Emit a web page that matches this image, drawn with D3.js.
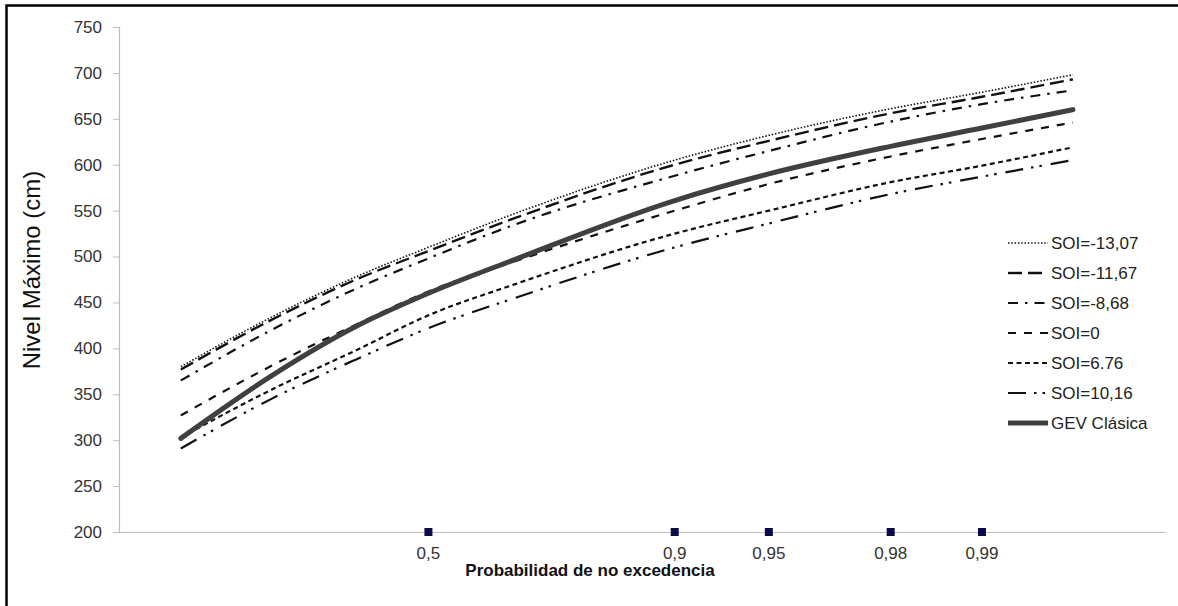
<!DOCTYPE html>
<html>
<head>
<meta charset="utf-8">
<script src="https://cdn.jsdelivr.net/npm/d3@7"></script>
<style>
  html, body { margin: 0; padding: 0; background: #fff; }
  svg { display: block; }
  text { font-family: "Liberation Sans", Arial, sans-serif; }
</style>
</head>
<body>
<svg id="chart" width="1178" height="606"></svg>
<script>
// ---- data ----
const probabilities = [0.01, 0.1, 0.3, 0.5, 0.7, 0.9, 0.95, 0.98, 0.99, 0.995];
const soiM1307 = [380, 434, 478, 510, 547, 605, 632, 661, 679, 698];
const soiM1167 = [377, 431, 475, 506, 542, 600, 626, 656, 674, 693];
const soiM868  = [365, 420, 465, 498, 535, 588, 615, 647, 666, 681];
const soi0     = [327, 381, 426, 462, 495, 550, 579, 609, 628, 646];
const soi676   = [303, 355, 398, 436, 470, 525, 550, 581, 599, 619];
const soi1016  = [291, 345, 388, 422, 455, 510, 536, 568, 587, 605];
const gevClasica = [302, 370, 424, 460, 497, 561, 590, 620, 640, 660];

const seriesNames = ["SOI=-13,07", "SOI=-11,67", "SOI=-8,68", "SOI=0", "SOI=6.76", "SOI=10,16", "GEV Clásica"];
const seriesValues = [soiM1307, soiM1167, soiM868, soi0, soi676, soi1016, gevClasica];

const xTickProbs = [0.5, 0.9, 0.95, 0.98, 0.99];
const xTickLabels = ["0,5", "0,9", "0,95", "0,98", "0,99"];
const yTicks = [200, 250, 300, 350, 400, 450, 500, 550, 600, 650, 700, 750];

// ---- styles ----
const styles = [
  { dash: "1.5,1.8", width: 1.6, color: "#111" },
  { dash: "14,6", width: 2.4, color: "#111" },
  { dash: "10,7,2.5,7", width: 2.2, color: "#111" },
  { dash: "8,8", width: 2.2, color: "#111" },
  { dash: "5,3.5", width: 2.2, color: "#111" },
  { dash: "18,8,2.5,6,2.5,9", width: 2.2, color: "#111" },
  { dash: null, width: 5, color: "#404040" }
];

const svg = d3.select("#chart");

// frame
svg.append("rect").attr("x", 0).attr("y", 0).attr("width", 1178).attr("height", 606).attr("fill", "#fff");
svg.append("rect").attr("x", 6.5).attr("y", 5.5).attr("width", 1300).attr("height", 700)
  .attr("fill", "none").attr("stroke", "#000").attr("stroke-width", 2.5);

// scales: x is the Gumbel reduced variate of the non-exceedance probability
const gumbel = p => -Math.log(-Math.log(p));
const xScale = d3.scaleLinear().domain([-2, 6]).range([119, 1165]);
const xp = p => xScale(gumbel(p));
const yScale = d3.scaleLinear().domain([200, 750]).range([532, 27]);

// y axis
const yAxis = d3.axisLeft(yScale).tickValues(yTicks).tickSize(6).tickPadding(11).tickFormat(d3.format("d"));
const gy = svg.append("g").attr("transform", "translate(119,0)").call(yAxis);
gy.select(".domain").attr("stroke", "#bdbdbd").attr("stroke-width", 1.2);
gy.selectAll(".tick line").attr("stroke", "#bdbdbd");
gy.selectAll(".tick text").attr("fill", "#333").attr("font-size", 17)
  .style("font-family", "'Liberation Sans', Arial, sans-serif");

// x axis line
const xAxis = d3.axisBottom(xScale).tickValues([]).tickSizeOuter(0);
const gx = svg.append("g").attr("transform", "translate(0,532)").call(xAxis);
gx.select(".domain").attr("stroke", "#bdbdbd").attr("stroke-width", 1.2);

// x markers and labels
svg.selectAll("rect.marker").data(xTickProbs).enter().append("rect")
  .attr("class", "marker")
  .attr("x", d => xp(d) - 4).attr("y", 528).attr("width", 8).attr("height", 8)
  .attr("fill", "#0b0b4a");
svg.selectAll("text.xlab").data(xTickProbs).enter().append("text")
  .attr("class", "xlab")
  .attr("x", d => xp(d)).attr("y", 559)
  .attr("text-anchor", "middle").attr("font-size", 17).attr("fill", "#333")
  .text((d, i) => xTickLabels[i]);

// axis titles
svg.append("text").attr("x", 590).attr("y", 576).attr("text-anchor", "middle")
  .attr("font-size", 17).attr("font-weight", "bold").attr("fill", "#111")
  .text("Probabilidad de no excedencia");
svg.append("text").attr("transform", "translate(40,270) rotate(-90)")
  .attr("text-anchor", "middle").attr("font-size", 24).attr("fill", "#111")
  .text("Nivel Máximo (cm)");

// lines
const line = d3.line()
  .x((d, i) => xp(probabilities[i]))
  .y(d => yScale(d))
  .curve(d3.curveMonotoneX);

seriesValues.forEach((vals, k) => {
  const st = styles[k];
  const path = svg.append("path").datum(vals)
    .attr("d", line)
    .attr("fill", "none")
    .attr("stroke", st.color)
    .attr("stroke-width", st.width)
    .attr("stroke-linecap", k === 6 ? "round" : "butt");
  if (st.dash) path.attr("stroke-dasharray", st.dash);
});

// legend
const legend = svg.append("g");
seriesNames.forEach((name, k) => {
  const st = styles[k];
  const cy = 243 + k * 30;
  const l = legend.append("line").attr("x1", 1008).attr("x2", 1048).attr("y1", cy).attr("y2", cy)
    .attr("stroke", st.color).attr("stroke-width", st.width);
  if (st.dash) l.attr("stroke-dasharray", st.dash);
  legend.append("text").attr("x", 1051).attr("y", cy + 6)
    .attr("font-size", 17).attr("fill", "#222").text(name);
});
</script>
</body>
</html>
